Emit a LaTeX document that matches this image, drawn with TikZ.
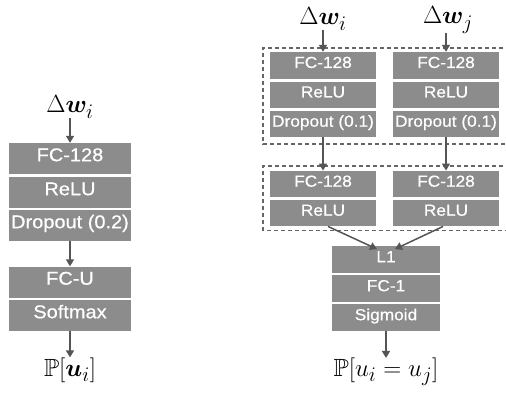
\documentclass[tikz,border=0pt]{standalone}
\usepackage{amsmath,amssymb,bm}
\usepackage{fontspec}
\newfontfamily\boxfont{Liberation Sans}[FakeStretch=1.08,FakeBold=0.6]
\usetikzlibrary{arrows.meta}
\definecolor{boxgray}{HTML}{8C8C8C}
\definecolor{arrgray}{HTML}{555555}
\definecolor{dashgray}{HTML}{666666}
\tikzset{
  bigbox/.style={fill=boxgray, draw=none, inner sep=0pt, minimum width=122pt, minimum height=31pt,
     text=white, font=\boxfont\fontsize{18.5}{20}\selectfont, text height=0.72em, text depth=0.18em},
  smallbox/.style={fill=boxgray, draw=none, inner sep=0pt, minimum width=106pt, minimum height=26.5pt,
     text=white, font=\boxfont\fontsize{16}{18}\selectfont, text height=0.72em, text depth=0.18em},
  arr/.style={draw=arrgray, line width=1.5pt, -{Triangle[length=7pt,width=8pt]}},
  grp/.style={draw=dashgray, line width=1.3pt, dash pattern=on 4pt off 3pt},
  lbl/.style={inner sep=0pt, font=\Huge}
}
\begin{document}
\begin{tikzpicture}[x=1pt,y=-1pt]
\useasboundingbox (0,0) rectangle (506,392);
% left network
\node[lbl] (lin) at (70,107) {$\Delta\bm{w}_i$};
\node[bigbox] (lfc) at (70,158.5) {FC-128};
\node[bigbox] (lrelu) at (70,192.5) {ReLU};
\node[bigbox] (ldrop) at (70,225.5) {Dropout (0.2)};
\node[bigbox] (lfcu) at (70,282) {FC-U};
\node[bigbox] (lsoft) at (70,315.5) {Softmax};
\node[lbl] (lout) at (70,370) {$\mathbb{P}[\bm{u}_i]$};
\draw[arr] (lin) -- (lfc);
\draw[arr] (ldrop) -- (lfcu);
\draw[arr] (lsoft) -- (lout);
% right network inputs
\node[lbl] (rini) at (323,19) {$\Delta\bm{w}_i$};
\node[lbl] (rinj) at (448,20) {$\Delta\bm{w}_j$};
% group 1
\node[smallbox] (afc) at (323,65.25) {FC-128};
\node[smallbox] (arelu) at (323,94.75) {ReLU};
\node[smallbox] (adrop) at (323,124) {Dropout (0.1)};
\node[smallbox] (bfc) at (446,65.25) {FC-128};
\node[smallbox] (brelu) at (446,94.75) {ReLU};
\node[smallbox] (bdrop) at (446,124) {Dropout (0.1)};
\coordinate (g1tr) at (510,48);
\coordinate (g1bl) at (263,144);
\draw[grp] (g1tr) -- (g1tr -| g1bl) -- (g1bl) -- (g1bl -| g1tr);
% group 2
\node[smallbox] (cfc) at (323,184) {FC-128};
\node[smallbox] (crelu) at (323,213) {ReLU};
\node[smallbox] (dfc) at (446,184) {FC-128};
\node[smallbox] (drelu) at (446,213) {ReLU};
\coordinate (g2tr) at (510,166);
\coordinate (g2bl) at (263,230.5);
\draw[grp] (g2tr) -- (g2tr -| g2bl) -- (g2bl) -- (g2bl -| g2tr);
% head
\node[smallbox, minimum width=108pt] (l1) at (386,259.5) {L1};
\node[smallbox, minimum width=108pt] (fc1) at (386,288.5) {FC-1};
\node[smallbox, minimum width=108pt] (sig) at (386,317.5) {Sigmoid};
\node[lbl] (rout) at (386,372) {$\mathbb{P}[u_i = u_j]$};
% arrows
\draw[arr] (rini.south -| afc) -- (afc);
\draw[arr] (rinj.south -| bfc) -- (bfc);
\draw[arr] (adrop) -- (cfc);
\draw[arr] (bdrop) -- (dfc);
\draw[arr] ([xshift=5pt]crelu.south) -- ([xshift=-9pt,yshift=-3pt]l1.north);
\draw[arr] ([xshift=-3pt]drelu.south) -- ([xshift=9pt,yshift=-3pt]l1.north);
\draw[arr] (sig) -- (rout);
\end{tikzpicture}
\end{document}
